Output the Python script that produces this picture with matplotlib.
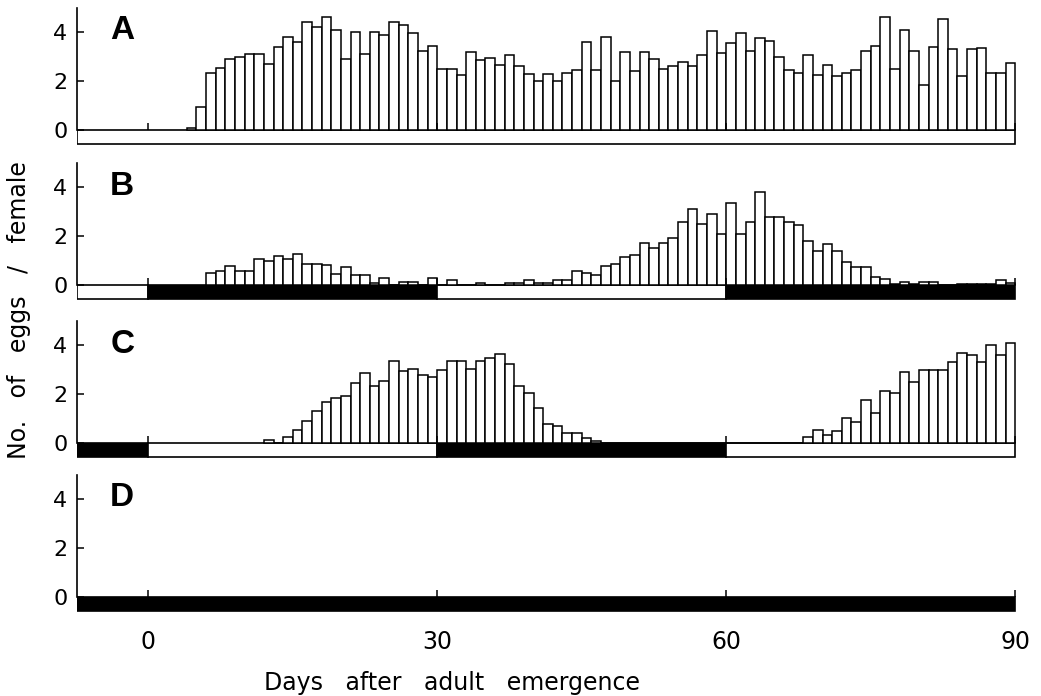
import matplotlib.pyplot as plt
import numpy as np

plt.rcParams['font.family'] = ['DejaVu Sans Condensed', 'Liberation Sans Narrow', 'DejaVu Sans']

# eggs per female per day; bar for day d covers (d-1, d)
days_A = np.arange(5, 91)
eggs_A = [0.1, 0.95, 2.35, 2.55, 2.9, 3.0, 3.1, 3.1, 2.7, 3.4,
          3.8, 3.6, 4.4, 4.2, 4.6, 4.1, 2.9, 4.0, 3.1, 4.0,
          3.9, 4.4, 4.3, 3.95, 3.25, 3.45, 2.5, 2.5, 2.25, 3.2,
          2.85, 2.95, 2.65, 3.05, 2.6, 2.3, 2.0, 2.3, 2.0, 2.35,
          2.45, 3.6, 2.45, 3.8, 2.0, 3.2, 2.4, 3.2, 2.9, 2.5,
          2.6, 2.8, 2.6, 3.05, 4.05, 3.15, 3.55, 3.95, 3.25, 3.75,
          3.65, 3.0, 2.45, 2.35, 3.05, 2.25, 2.65, 2.2, 2.35, 2.45,
          3.25, 3.45, 4.6, 2.5, 4.1, 3.25, 1.85, 3.4, 4.55, 3.3,
          2.2, 3.3, 3.35, 2.35, 2.35, 2.75]

days_B = np.arange(7, 91)
eggs_B = [0.5, 0.6, 0.8, 0.6, 0.6, 1.08, 1.0, 1.18, 1.08, 1.26,
          0.88, 0.86, 0.84, 0.45, 0.74, 0.43, 0.42, 0.1, 0.3, 0.0,
          0.12, 0.12, 0.0, 0.3, 0.0, 0.2, 0.0, 0.0, 0.1, 0.0,
          0.0, 0.1, 0.1, 0.2, 0.1, 0.1, 0.2, 0.2, 0.6, 0.5,
          0.4, 0.8, 0.88, 1.15, 1.25, 1.73, 1.53, 1.73, 1.93, 2.6,
          3.1, 2.5, 2.9, 2.1, 3.35, 2.1, 2.6, 3.8, 2.8, 2.8,
          2.6, 2.45, 1.8, 1.4, 1.7, 1.4, 0.95, 0.75, 0.75, 0.35,
          0.25, 0.05, 0.15, 0.05, 0.15, 0.15, 0.0, 0.0, 0.05, 0.05,
          0.05, 0.05, 0.2, 0.1]

days_C = np.arange(13, 91)
eggs_C = [0.13, 0.0, 0.25, 0.55, 0.9, 1.3, 1.7, 1.85, 1.95, 2.45,
          2.85, 2.35, 2.55, 3.35, 2.95, 3.05, 2.8, 2.7, 3.0, 3.35,
          3.35, 3.05, 3.35, 3.5, 3.65, 3.25, 2.35, 2.05, 1.45, 0.8,
          0.7, 0.4, 0.4, 0.2, 0.1, 0.0, 0.0, 0.0, 0.0, 0.0,
          0.0, 0.0, 0.0, 0.0, 0.0, 0.0, 0.0, 0.0, 0.0, 0.0,
          0.0, 0.0, 0.0, 0.0, 0.0, 0.0, 0.25, 0.55, 0.35, 0.5,
          1.05, 0.85, 1.75, 1.25, 2.15, 2.05, 2.9, 2.5, 3.0, 3.0,
          3.0, 3.3, 3.7, 3.6, 3.3, 4.0, 3.6, 4.1]

days_D = np.arange(1, 91)
eggs_D = [0.0] * 90

# photoperiod regime under each panel: (start, end, dark)
regime_A = [(-7.4, 90, False)]
regime_B = [(-7.4, 0, False), (0, 30, True), (30, 60, False), (60, 90, True)]
regime_C = [(-7.4, 0, True), (0, 30, False), (30, 60, True), (60, 90, False)]
regime_D = [(-7.4, 90, True)]

panels = [("A", days_A, eggs_A, regime_A),
          ("B", days_B, eggs_B, regime_B),
          ("C", days_C, eggs_C, regime_C),
          ("D", days_D, eggs_D, regime_D)]

fig = plt.figure(figsize=(10.41, 6.96), dpi=100)
bottoms = [0.792, 0.569, 0.342, 0.121]

for i, (label, days, eggs, regime) in enumerate(panels):
    ax = fig.add_axes([0.074, bottoms[i], 0.904, 0.197])
    ax.set_xlim(-7.4, 90.3)
    ax.set_ylim(-0.6, 5.0)

    # light / dark strip
    for start, end, dark in regime:
        ax.bar(start, -0.55, width=end - start, bottom=0, align='edge',
               color='black' if dark else 'white', edgecolor='black',
               linewidth=1.2)

    # daily egg bars
    if label != "D":
        ax.bar(days, eggs, width=-1, align='edge', color='white',
               edgecolor='black', linewidth=1.1)

    ax.spines['top'].set_visible(False)
    ax.spines['right'].set_visible(False)
    ax.spines['bottom'].set_visible(False)
    ax.spines['bottom'].set_position(('data', 0))
    ax.spines['left'].set_bounds(0, 5.0)
    ax.spines['left'].set_linewidth(1.2)

    ax.set_yticks([0, 2, 4])
    ax.tick_params(axis='y', direction='in', length=5, width=1.1,
                   labelsize=16, pad=7)
    ax.set_xticks([0, 30, 60, 90])
    ax.tick_params(axis='x', direction='in', length=5, width=1.1,
                   labelsize=17, pad=24)
    if label != "D":
        ax.tick_params(axis='x', labelbottom=False)

    ax.text(0.048, 0.83, label, transform=ax.transAxes, ha='center',
            va='center', fontsize=24, fontweight='bold',
            family=['Liberation Sans', 'DejaVu Sans'])

fig.text(0.434, 0.018, "Days   after   adult   emergence",
         ha='center', va='center', fontsize=17)
fig.text(0.018, 0.555, "No.   of   eggs   /   female", rotation=90,
         ha='center', va='center', fontsize=17)

plt.savefig("out.png", dpi=100)
